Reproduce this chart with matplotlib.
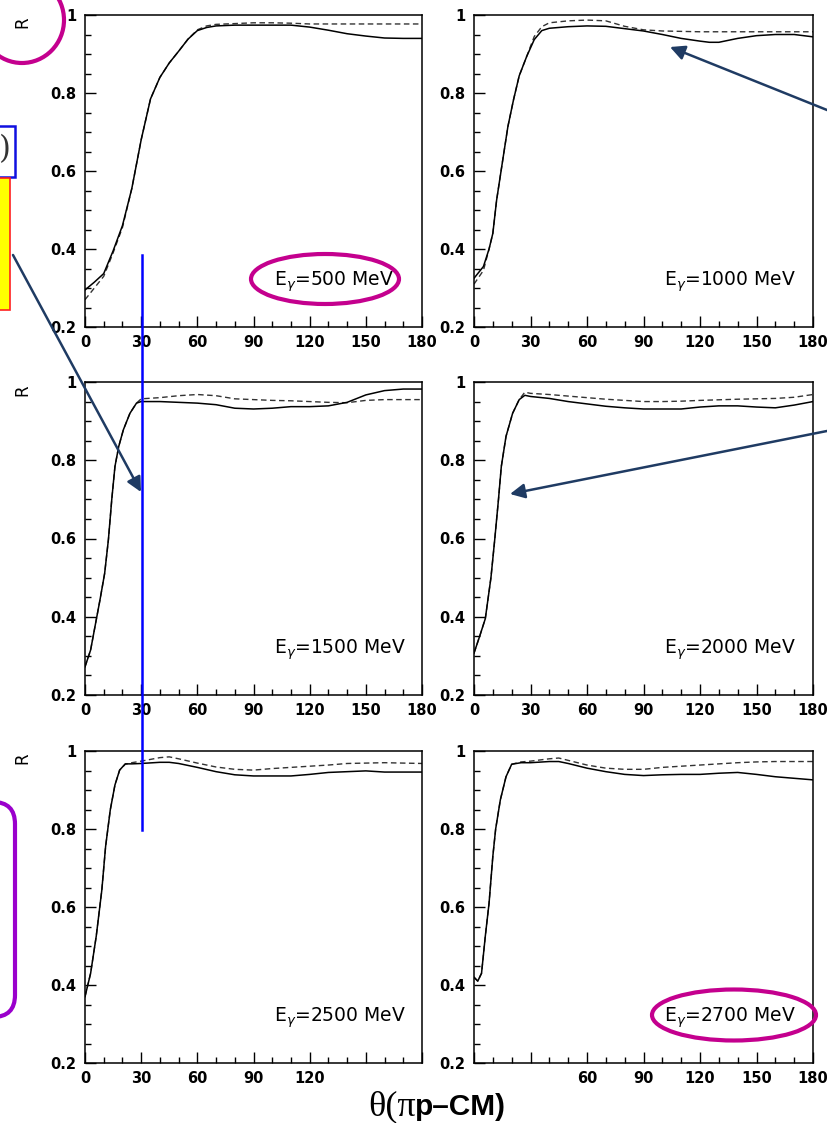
import numpy as np
import matplotlib
matplotlib.use('Agg')
import matplotlib.pyplot as plt
from matplotlib.patches import Ellipse, Rectangle, FancyBboxPatch

plt.rcParams['font.family'] = ['DejaVu Sans']

########## Data ##########
energies = ['500', '1000', '1500', '2000', '2500', '2700']

th_500_s = [0, 5, 10, 15, 20, 25, 30, 35, 40, 45, 50, 55, 60, 65, 70, 80, 90, 100, 110, 120, 130, 140, 150, 160, 170, 180]
r_500_s = [0.295, 0.315, 0.337, 0.395, 0.46, 0.555, 0.68, 0.785, 0.84, 0.877, 0.907, 0.938, 0.96, 0.968, 0.972, 0.974, 0.974, 0.974, 0.974, 0.969, 0.961, 0.952, 0.946, 0.941, 0.94, 0.94]
th_500_d = [0, 5, 10, 15, 20, 25, 30, 35, 40, 45, 50, 55, 60, 65, 70, 80, 90, 100, 110, 120, 140, 160, 180]
r_500_d = [0.27, 0.30, 0.33, 0.39, 0.455, 0.555, 0.68, 0.785, 0.84, 0.877, 0.907, 0.938, 0.962, 0.972, 0.976, 0.978, 0.98, 0.98, 0.979, 0.977, 0.977, 0.977, 0.977]

th_1000_s = [0, 5, 8, 10, 12, 15, 18, 21, 24, 28, 32, 36, 40, 50, 60, 70, 80, 90, 100, 110, 120, 125, 130, 140, 150, 160, 170, 180]
r_1000_s = [0.325, 0.355, 0.40, 0.44, 0.525, 0.62, 0.714, 0.783, 0.844, 0.894, 0.937, 0.96, 0.966, 0.97, 0.972, 0.971, 0.965, 0.959, 0.95, 0.94, 0.933, 0.93, 0.93, 0.94, 0.947, 0.95, 0.95, 0.944]
th_1000_d = [0, 5, 8, 10, 12, 15, 18, 21, 24, 28, 32, 36, 40, 50, 60, 70, 80, 90, 100, 120, 140, 160, 180]
r_1000_d = [0.31, 0.345, 0.40, 0.44, 0.525, 0.62, 0.714, 0.783, 0.844, 0.894, 0.945, 0.97, 0.98, 0.985, 0.987, 0.985, 0.971, 0.962, 0.959, 0.957, 0.957, 0.957, 0.957]

th_1500_s = [0, 3, 6, 8, 10.5, 12.5, 14.3, 16, 18, 20.5, 24, 27.5, 30, 40, 50, 60, 70, 80, 90, 100, 110, 120, 130, 140, 150, 160, 170, 180]
r_1500_s = [0.272, 0.315, 0.392, 0.443, 0.511, 0.597, 0.70, 0.784, 0.835, 0.878, 0.92, 0.946, 0.95, 0.95, 0.948, 0.946, 0.942, 0.933, 0.931, 0.933, 0.937, 0.937, 0.939, 0.948, 0.967, 0.978, 0.982, 0.982]
th_1500_d = [0, 3, 6, 8, 10.5, 12.5, 14.3, 16, 18, 20.5, 24, 27.5, 30, 40, 50, 60, 70, 80, 90, 100, 110, 120, 130, 140, 150, 160, 170, 180]
r_1500_d = [0.272, 0.315, 0.392, 0.443, 0.511, 0.597, 0.70, 0.784, 0.835, 0.878, 0.92, 0.946, 0.957, 0.96, 0.965, 0.968, 0.965, 0.957, 0.955, 0.953, 0.952, 0.95, 0.948, 0.947, 0.953, 0.955, 0.955, 0.955]

th_2000_s = [0, 3, 6, 9, 11, 13, 14.5, 17, 20.5, 24, 27, 30, 40, 50, 60, 70, 80, 90, 100, 110, 120, 130, 140, 150, 160, 170, 180]
r_2000_s = [0.307, 0.35, 0.395, 0.50, 0.597, 0.70, 0.784, 0.861, 0.92, 0.955, 0.966, 0.963, 0.958, 0.95, 0.944, 0.938, 0.934, 0.931, 0.931, 0.931, 0.936, 0.939, 0.939, 0.936, 0.934, 0.941, 0.95]
th_2000_d = [0, 3, 6, 9, 11, 13, 14.5, 17, 20.5, 24, 27, 30, 40, 50, 60, 70, 80, 90, 100, 110, 120, 140, 160, 170, 180]
r_2000_d = [0.307, 0.35, 0.395, 0.50, 0.597, 0.70, 0.784, 0.861, 0.92, 0.955, 0.974, 0.971, 0.968, 0.964, 0.96, 0.956, 0.953, 0.95, 0.95, 0.951, 0.953, 0.956, 0.958, 0.961, 0.968]

th_2500_s = [0, 3, 6, 9, 11, 13.5, 16, 18.5, 21.5, 25, 30, 40, 45, 50, 60, 70, 80, 90, 100, 110, 120, 130, 140, 150, 160, 170, 180]
r_2500_s = [0.37, 0.43, 0.525, 0.644, 0.755, 0.849, 0.913, 0.951, 0.967, 0.967, 0.968, 0.971, 0.971, 0.968, 0.958, 0.947, 0.939, 0.936, 0.936, 0.936, 0.94, 0.945, 0.947, 0.949, 0.946, 0.946, 0.946]
th_2500_d = [0, 3, 6, 9, 11, 13.5, 16, 18.5, 21.5, 25, 30, 40, 45, 50, 60, 70, 80, 90, 100, 110, 120, 130, 140, 150, 160, 170, 180]
r_2500_d = [0.37, 0.43, 0.525, 0.644, 0.755, 0.849, 0.913, 0.951, 0.966, 0.97, 0.974, 0.983, 0.985, 0.98, 0.969, 0.959, 0.953, 0.951, 0.955, 0.958, 0.961, 0.964, 0.968, 0.969, 0.97, 0.969, 0.968]

th_2700_s = [0, 2, 4, 6, 8, 10, 11.5, 14, 17, 20, 25, 30, 40, 45, 50, 60, 70, 80, 90, 100, 110, 120, 130, 140, 150, 160, 170, 180]
r_2700_s = [0.42, 0.41, 0.43, 0.525, 0.61, 0.73, 0.80, 0.875, 0.934, 0.966, 0.97, 0.97, 0.973, 0.973, 0.968, 0.956, 0.947, 0.94, 0.937, 0.939, 0.94, 0.94, 0.943, 0.945, 0.94, 0.934, 0.93, 0.926]
th_2700_d = [0, 2, 4, 6, 8, 10, 11.5, 14, 17, 20, 25, 30, 40, 45, 50, 60, 70, 80, 90, 100, 110, 120, 130, 140, 150, 160, 170, 180]
r_2700_d = [0.42, 0.41, 0.43, 0.525, 0.61, 0.73, 0.80, 0.875, 0.934, 0.966, 0.972, 0.974, 0.98, 0.982, 0.976, 0.964, 0.956, 0.953, 0.953, 0.958, 0.961, 0.964, 0.967, 0.97, 0.972, 0.973, 0.973, 0.973]

xticks = [0, 30, 60, 90, 120, 150, 180]
yticks = [0.2, 0.4, 0.6, 0.8, 1.0]
ytick_labels = ['0.2', '0.4', '0.6', '0.8', '1']

panels = [
    (th_500_s, r_500_s, th_500_d, r_500_d),
    (th_1000_s, r_1000_s, th_1000_d, r_1000_d),
    (th_1500_s, r_1500_s, th_1500_d, r_1500_d),
    (th_2000_s, r_2000_s, th_2000_d, r_2000_d),
    (th_2500_s, r_2500_s, th_2500_d, r_2500_d),
    (th_2700_s, r_2700_s, th_2700_d, r_2700_d),
]

########## Layout (pixel boxes of the panels) ##########
W, H = 827, 1123
cols = [(85, 422), (474, 813)]
rows = [(15, 327), (382, 695), (751, 1063)]

fig = plt.figure(figsize=(W / 100, H / 100), dpi=100)
fig.patch.set_facecolor('white')

for i, (ts, rs, td, rd) in enumerate(panels):
    r, c = divmod(i, 2)
    x0, x1 = cols[c]
    y0, y1 = rows[r]
    ax = fig.add_axes([x0 / W, 1 - y1 / H, (x1 - x0) / W, (y1 - y0) / H])
    ax.plot(td, rd, color='#333333', lw=1.0, ls=(0, (4, 2.5)))
    ax.plot(ts, rs, color='black', lw=1.1)
    ax.set_xlim(0, 180)
    ax.set_ylim(0.2, 1.0)
    ax.set_xticks(xticks)
    ax.set_xticks(np.arange(0, 181, 10), minor=True)
    ax.set_yticks(yticks)
    ax.set_yticklabels(ytick_labels)
    ax.set_yticks(np.arange(0.2, 1.001, 0.05), minor=True)
    ax.tick_params(which='major', direction='in', length=8, width=1.0, pad=6,
                   labelsize=10.5, top=False, right=False)
    ax.tick_params(which='minor', direction='in', length=4, width=1.0, top=False, right=False)
    for lab in ax.get_xticklabels() + ax.get_yticklabels():
        lab.set_fontweight('bold')
    for sp in ax.spines.values():
        sp.set_linewidth(1.1)
    ax.text(0.56, 0.145, r'E$_{\gamma}$=' + energies[i] + ' MeV', transform=ax.transAxes,
            fontsize=13.5, ha='left', va='center')

for y in [22, 390, 758]:
    fig.text(22 / W, 1 - y / H, 'R', rotation=90, fontsize=12, ha='center', va='center')

########## Slide annotations (pixel coordinates) ##########
ov = fig.add_axes([0, 0, 1, 1], zorder=10)
ov.set_xlim(0, W)
ov.set_ylim(H, 0)
ov.axis('off')
ov.patch.set_alpha(0)

magenta = '#C4008E'
navy = '#1F3B63'

ov.add_patch(Ellipse((22, 20), 84, 86, fill=False, ec=magenta, lw=3))
ov.add_patch(Ellipse((325, 279), 148, 50, fill=False, ec=magenta, lw=3))
ov.add_patch(Ellipse((734, 1015), 164, 51, fill=False, ec=magenta, lw=3))

ov.add_patch(Rectangle((-40, 126), 55, 51, fc='white', ec='#1010E0', lw=1.8))
ov.text(11, 150, ')', fontsize=22, family='DejaVu Serif', ha='right', va='center', color='#333333')
ov.add_patch(Rectangle((-40, 178), 50, 132, fc='#FFFF00', ec='#FF2020', lw=1.2))

ov.add_patch(FancyBboxPatch((-60, 802), 75, 215, boxstyle='round,pad=0,rounding_size=22',
                            fill=False, ec='#9A00CC', lw=3))

ov.plot([142, 142], [255, 830], color='#0000FF', lw=1.8)

arrow = dict(arrowstyle='-|>', color=navy, lw=1.8, mutation_scale=22, shrinkA=0, shrinkB=0)
ov.annotate('', xy=(141, 492), xytext=(13, 255), arrowprops=arrow)
ov.annotate('', xy=(670, 47), xytext=(832, 112), arrowprops=arrow)
ov.annotate('', xy=(510, 494), xytext=(832, 430), arrowprops=arrow)

ov.add_patch(Rectangle((350, 1071), 210, 60, fc='white', ec='none'))
ov.text(416, 1115, r'θ(π', family='Liberation Serif', fontsize=26, ha='right', va='baseline')
ov.text(415, 1115, 'p\u2013CM)', family='Liberation Sans', fontweight='bold', fontsize=21.5,
        ha='left', va='baseline')

fig.savefig('out.png', dpi=100)
